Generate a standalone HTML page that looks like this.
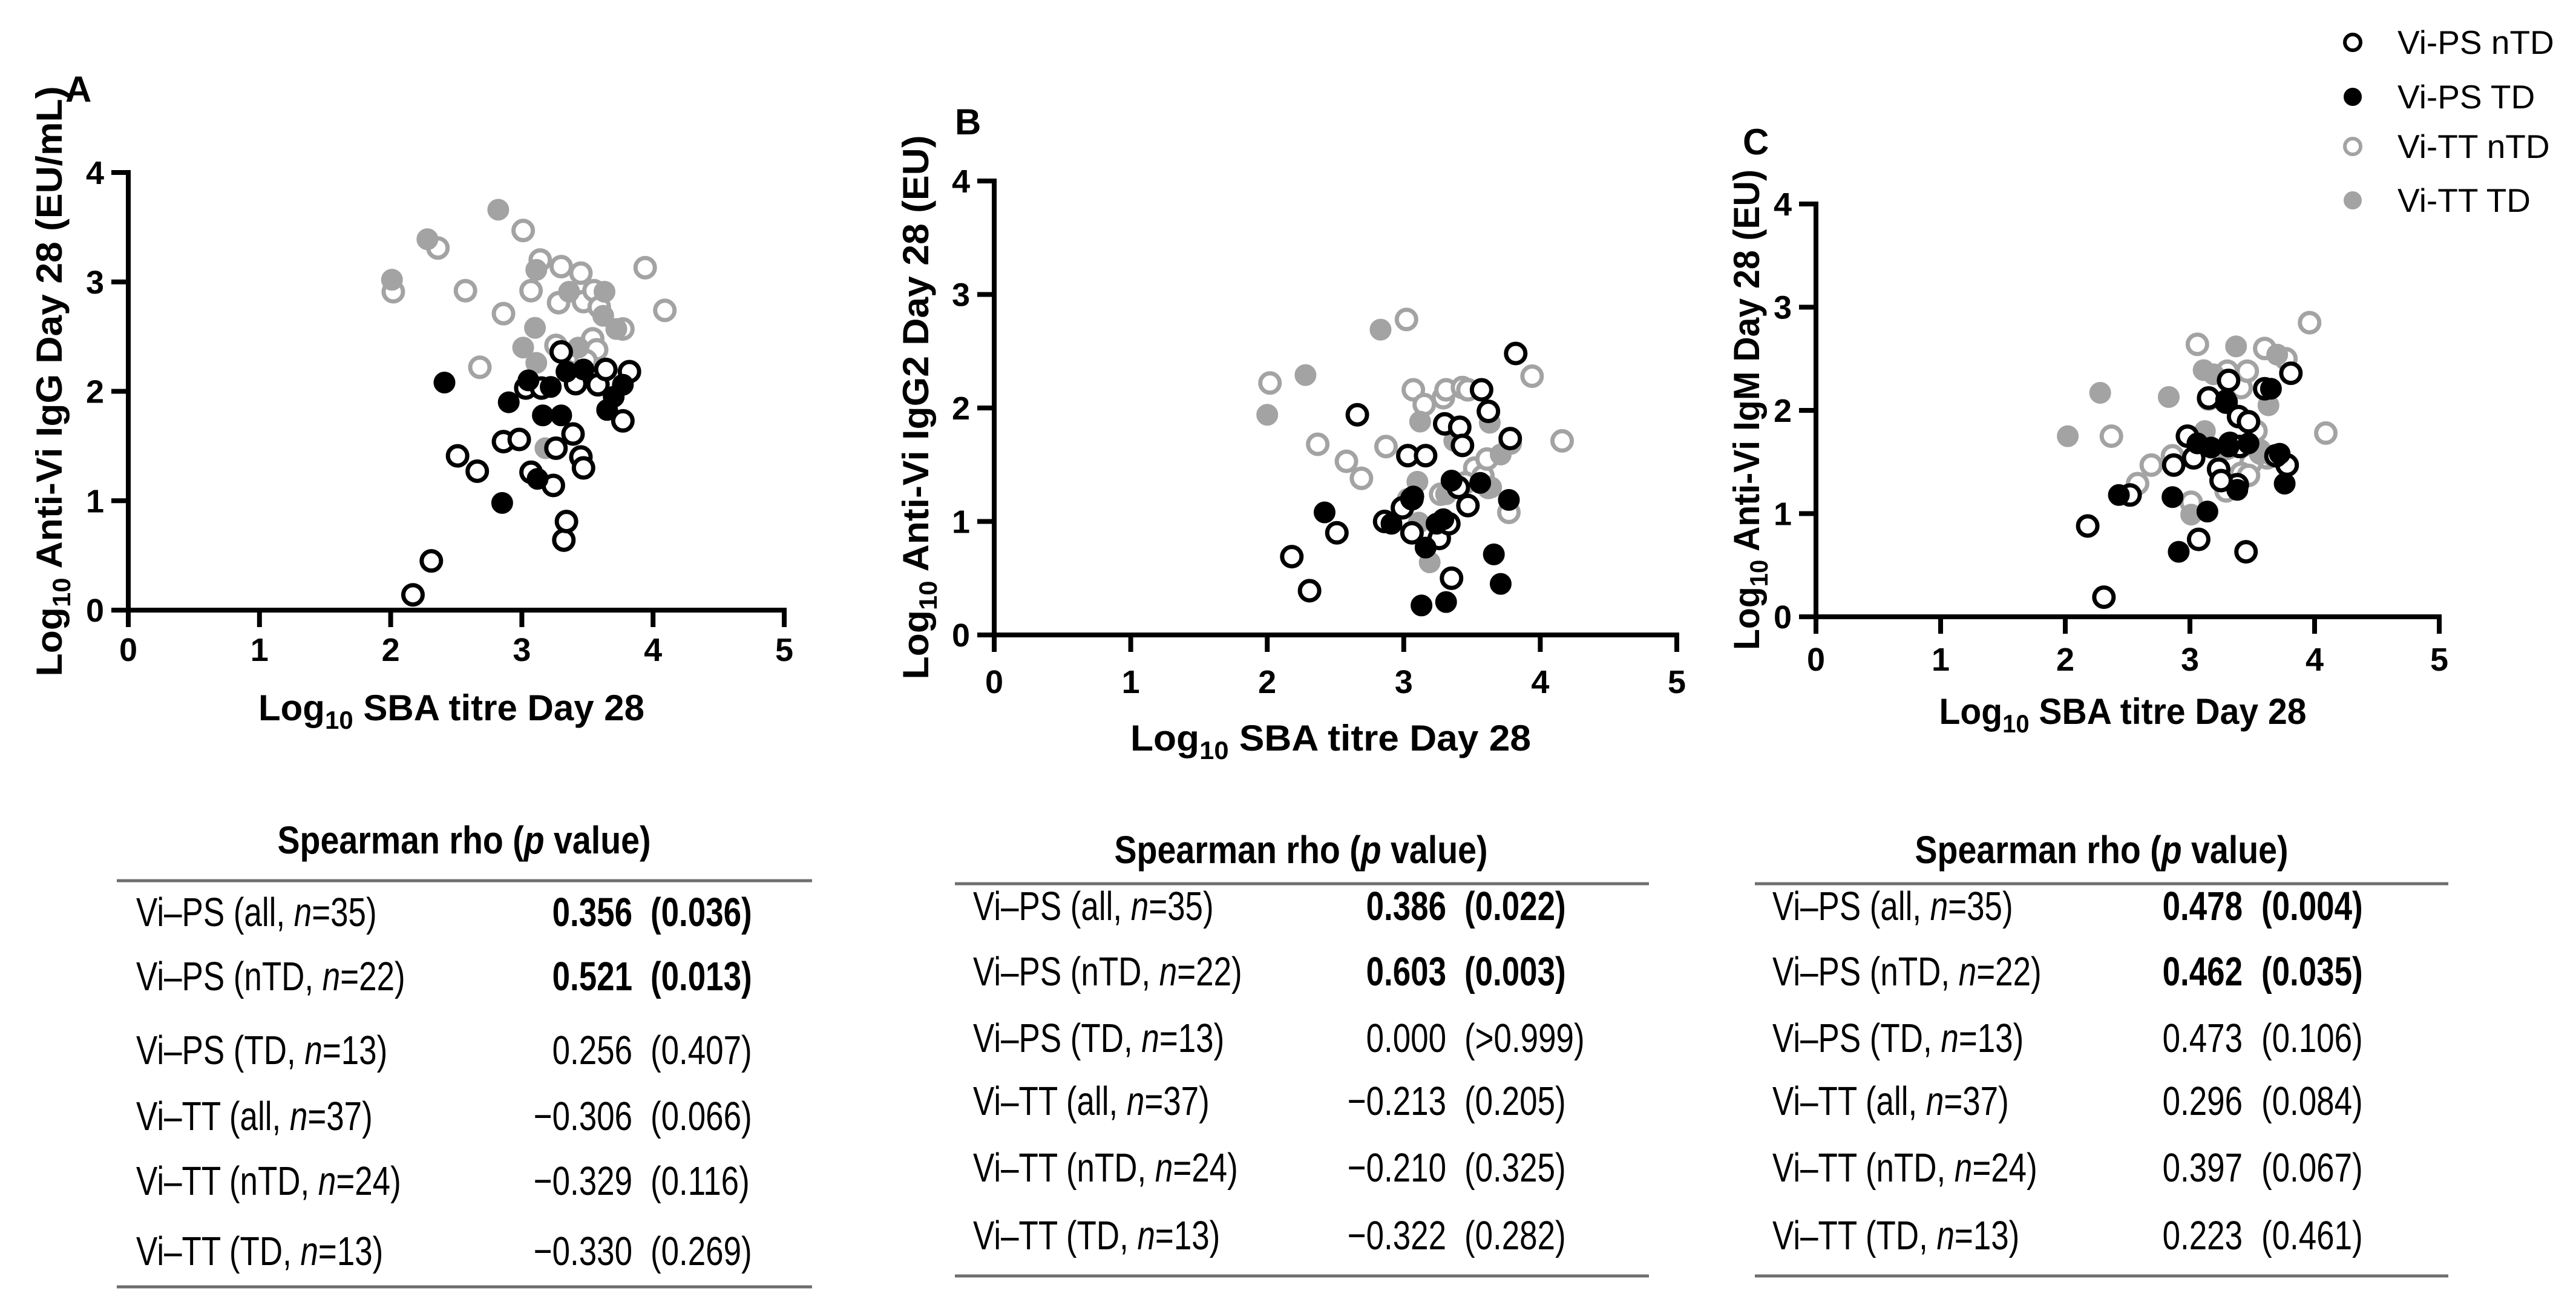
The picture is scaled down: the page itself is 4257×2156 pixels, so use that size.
<!DOCTYPE html>
<html><head><meta charset="utf-8"><style>
html,body{margin:0;padding:0;background:#fff;}
svg{display:block;}
text{font-family:"Liberation Sans",sans-serif;}
</style></head><body>
<svg id="fig" xmlns="http://www.w3.org/2000/svg" width="4257" height="2156" viewBox="0 0 4257 2156">
<rect width="4257" height="2156" fill="#fff"/>
</svg>
<script>
// ---- data ----
const xTicks = [0,1,2,3,4,5];
const yTicks = [0,1,2,3,4];
const seriesNames = ['Vi-PS nTD','Vi-PS TD','Vi-TT nTD','Vi-TT TD'];

// Panel A (IgG)
const aPsNtdX = [2.17,2.31,2.51,2.66,2.86,2.98,3.03,3.07,3.15,3.24,3.26,3.32,3.34,3.39,3.41,3.45,3.47,3.58,3.64,3.77,3.82,3.30];
const aPsNtdY = [0.14,0.45,1.41,1.27,1.54,1.56,2.03,1.26,2.03,1.14,1.48,0.64,0.81,1.61,2.07,1.40,1.30,2.06,2.20,1.73,2.18,2.36];
const aPsTdX = [2.41,2.85,2.90,3.05,3.12,3.16,3.22,3.30,3.34,3.47,3.65,3.70,3.77];
const aPsTdY = [2.08,0.98,1.90,2.10,1.20,1.78,2.04,1.78,2.18,2.20,1.83,1.95,2.06];
const aTtNtdX = [2.02,2.36,2.57,2.68,2.86,3.01,3.07,3.14,3.28,3.30,3.26,3.45,3.47,3.41,3.55,3.54,3.59,3.57,3.77,3.94,4.09,3.49];
const aTtNtdY = [2.91,3.31,2.92,2.22,2.71,3.47,2.92,3.20,2.81,3.14,2.42,3.08,2.82,2.34,2.92,2.48,2.77,2.38,2.57,3.13,2.74,2.28];
const aTtTdX = [2.01,2.28,2.82,3.10,3.01,3.11,3.11,3.36,3.63,3.62,3.72,3.18,3.43];
const aTtTdY = [3.02,3.39,3.66,2.58,2.40,3.11,2.26,2.91,2.91,2.69,2.57,1.48,2.40];

// Panel B (IgG2)
const bPsNtdX = [2.18,2.31,2.51,2.66,2.86,3.03,3.16,3.06,2.99,3.06,3.26,3.30,3.41,3.43,3.33,3.35,3.47,3.57,3.62,3.78,3.82,3.40];
const bPsNtdY = [0.69,0.39,0.90,1.94,1.00,1.58,1.58,0.90,1.12,1.20,0.85,1.86,1.83,1.67,0.98,0.50,1.14,2.16,1.97,1.73,2.48,1.30];
const bPsTdX = [2.42,2.91,3.13,3.16,3.24,3.31,3.35,3.66,3.71,3.77,3.07,3.29,3.56];
const bPsTdY = [1.08,0.98,0.26,0.77,0.98,0.29,1.36,0.71,0.45,1.19,1.22,1.02,1.34];
const bTtNtdX = [2.02,2.37,2.58,2.69,2.87,3.02,3.07,3.15,3.29,3.31,3.43,3.47,3.27,3.52,3.58,3.61,3.78,3.77,3.94,4.16,3.45,3.62];
const bTtNtdY = [2.22,1.68,1.53,1.38,1.66,2.78,2.16,2.03,2.09,2.16,2.18,2.16,1.24,1.47,1.40,1.55,1.69,1.08,2.28,1.71,1.34,1.30];
const bTtTdX = [2.00,2.28,2.83,3.12,3.10,3.03,3.11,3.19,3.31,3.37,3.63,3.71,3.64];
const bTtTdY = [1.94,2.29,2.69,1.88,1.35,1.20,0.99,0.64,1.24,1.71,1.87,1.59,1.30];

// Panel C (IgM)
const cPsNtdX = [2.31,2.18,2.52,2.87,2.98,3.03,3.07,3.23,3.29,3.31,3.32,3.39,3.45,3.47,3.38,3.78,3.81,3.60,3.15,3.40,3.69,3.25];
const cPsNtdY = [0.19,0.88,1.18,1.47,1.75,1.54,0.75,1.43,2.08,2.29,1.68,1.94,0.63,1.89,1.28,1.47,2.36,2.21,2.12,1.65,1.56,1.32];
const cPsTdX = [2.43,2.86,2.91,3.14,3.06,3.17,3.29,3.38,3.47,3.65,3.72,3.76,3.31];
const cPsTdY = [1.18,1.16,0.63,1.02,1.68,1.64,2.10,1.23,1.68,2.21,1.58,1.29,1.65];
const cTtNtdX = [2.37,2.58,2.69,2.86,3.01,3.06,3.15,3.30,3.41,3.46,3.53,3.49,3.41,3.29,3.60,3.77,3.96,4.09,3.62,3.29,3.56,3.47];
const cTtNtdY = [1.75,1.29,1.47,1.56,1.11,2.64,2.11,2.38,2.22,2.38,1.80,1.49,1.39,1.22,2.60,2.50,2.85,1.78,1.54,1.63,1.61,1.37];
const cTtTdX = [2.02,2.28,2.83,3.01,3.11,3.12,3.19,3.37,3.70,3.63,3.31,3.66,3.56];
const cTtTdY = [1.75,2.17,2.13,0.99,2.39,1.80,2.35,2.62,2.54,2.05,1.63,1.56,1.58];

// ---- rendering ----
const NS = 'http://www.w3.org/2000/svg';
const svg = document.getElementById('fig');
function mk(tag, attrs, parent){
  const e = document.createElementNS(NS, tag);
  for (const k in attrs) e.setAttribute(k, attrs[k]);
  (parent||svg).appendChild(e);
  return e;
}
const GREY = '#a3a3a3';

const panels = [
  {id:'a', letter:'A', x0:212, x5:1296, y0:1008, y4:285, tickY:1092, xTitleY:1190, xTitleLen:638, yTitleX:80, yTitleC:630, yTitleLen:975,
   yTitle:'Anti-Vi IgG Day 28 (EU/mL)', lx:108, ly:168,
   series:[[aTtNtdX,aTtNtdY],[aTtTdX,aTtTdY],[aPsNtdX,aPsNtdY],[aPsTdX,aPsTdY]]},
  {id:'b', letter:'B', x0:1643, x5:2771, y0:1049, y4:299, tickY:1145, xTitleY:1240, xTitleLen:662, yTitleX:1512, yTitleC:673, yTitleLen:899,
   yTitle:'Anti-Vi IgG2 Day 28 (EU)', lx:1578, ly:222,
   series:[[bTtNtdX,bTtNtdY],[bTtTdX,bTtTdY],[bPsNtdX,bPsNtdY],[bPsTdX,bPsTdY]]},
  {id:'c', letter:'C', x0:3001, x5:4031, y0:1019, y4:337, tickY:1108, xTitleY:1196, xTitleLen:607, yTitleX:2885, yTitleC:677, yTitleLen:794,
   yTitle:'Anti-Vi IgM Day 28 (EU)', lx:2880, ly:255,
   series:[[cTtNtdX,cTtNtdY],[cTtTdX,cTtTdY],[cPsNtdX,cPsNtdY],[cPsTdX,cPsTdY]]}
];
const seriesStyle = [
  {fill:'#fff', stroke:GREY, name:'vi-tt-ntd'},
  {fill:GREY, stroke:GREY, name:'vi-tt-td'},
  {fill:'#fff', stroke:'#000', name:'vi-ps-ntd'},
  {fill:'#000', stroke:'#000', name:'vi-ps-td'}
];

panels.forEach(p => {
  const sx = v => p.x0 + (p.x5 - p.x0) * v / 5;
  const sy = v => p.y0 - (p.y0 - p.y4) * v / 4;
  const g = mk('g', {});
  
  
  const xa = mk('line', {x1:sx(0)-4, y1:sy(0), x2:sx(5)+4, y2:sy(0), stroke:'#000','stroke-width':8}, g);
  
  
  const ya = mk('line', {x1:sx(0), y1:sy(0)+4, x2:sx(0), y2:sy(4)-4, stroke:'#000','stroke-width':8}, g);
  
  
  xTicks.forEach(t => {
    mk('line', {x1:sx(t), y1:sy(0), x2:sx(t), y2:sy(0)+28, stroke:'#000','stroke-width':8}, g);
    const tl = mk('text', {x:sx(t), y:p.tickY, 'text-anchor':'middle','font-size':54,'font-weight':'bold'}, g);
    tl.textContent = t;
    
    
  });
  yTicks.forEach(t => {
    mk('line', {x1:sx(0)-28, y1:sy(t), x2:sx(0), y2:sy(t), stroke:'#000','stroke-width':8}, g);
    const tl = mk('text', {x:sx(0)-40, y:sy(t)+19, 'text-anchor':'end','font-size':54,'font-weight':'bold'}, g);
    tl.textContent = t;
    
    
  });
  const xt = mk('text', {x:(p.x0+p.x5)/2 - 8, y:p.xTitleY, 'text-anchor':'middle','font-size':60,'font-weight':'bold', textLength:p.xTitleLen, lengthAdjust:'spacingAndGlyphs'}, g);
  xt.innerHTML = 'Log<tspan font-size="42" dy="14">10</tspan><tspan dy="-14"> SBA titre Day 28</tspan>';
  
  
  const yt = mk('text', {x:0, y:0, transform:`translate(${p.yTitleX + 22},${p.yTitleC}) rotate(-90)`, 'text-anchor':'middle','font-size':60,'font-weight':'bold', textLength:p.yTitleLen, lengthAdjust:'spacingAndGlyphs'}, g);
  yt.innerHTML = 'Log<tspan font-size="42" dy="14">10</tspan><tspan dy="-14"> ' + p.yTitle + '</tspan>';
  
  
  const lt = mk('text', {x:p.lx, y:p.ly, 'font-size':60,'font-weight':'bold'}, g);
  lt.textContent = p.letter;
  
  
  p.series.forEach((s, si) => {
    const st = seriesStyle[si];
    const sg = mk('g', {}, g);
    
    
    s[0].forEach((xv, i) => {
      const c = mk('circle', {cx:sx(xv), cy:sy(s[1][i]), r:st.fill==='#fff'?16:17, fill:st.fill, stroke:st.stroke, 'stroke-width':st.fill==='#fff'?7:2}, sg);
      
      
    });
  });
});

const legendY = [70,160,242,331];
const legendStyle = [
  {fill:'#fff', stroke:'#000'},{fill:'#000', stroke:'#000'},{fill:'#fff', stroke:GREY},{fill:GREY, stroke:GREY}
];
const lg = mk('g', {});


seriesNames.forEach((n, i) => {
  const st = legendStyle[i];
  const e = mk('g', {}, lg);
  
  
  mk('circle', {cx:3888, cy:legendY[i], r:st.fill==='#fff'?13:14, fill:st.fill, stroke:st.stroke, 'stroke-width':st.fill==='#fff'?6:2}, e);
  const t = mk('text', {x:3962, y:legendY[i]+19, 'font-size':55}, e);
  t.textContent = n;
});

const tableRows = ['Vi\u2013PS (all, <tspan font-style="italic">n</tspan>=35)','Vi\u2013PS (nTD, <tspan font-style="italic">n</tspan>=22)','Vi\u2013PS (TD, <tspan font-style="italic">n</tspan>=13)','Vi\u2013TT (all, <tspan font-style="italic">n</tspan>=37)','Vi\u2013TT (nTD, <tspan font-style="italic">n</tspan>=24)','Vi\u2013TT (TD, <tspan font-style="italic">n</tspan>=13)'];
const tables = [
  {id:'a', hx:767, hy:1410, lineY1:1455, lineY2:2126, lx1:193, lx2:1342, labX:225, rhoEnd:1045, pX:1075,
   rows:[1530,1636,1758,1867,1974,2090],
   rho:['0.356','0.521','0.256','\u22120.306','\u22120.329','\u22120.330'],
   pv:['(0.036)','(0.013)','(0.407)','(0.066)','(0.116)','(0.269)'], bold:[1,1,0,0,0,0]},
  {id:'b', hx:2150, hy:1426, lineY1:1460, lineY2:2108, lx1:1578, lx2:2725, labX:1608, rhoEnd:2390, pX:2420,
   rows:[1520,1628,1738,1842,1952,2064],
   rho:['0.386','0.603','0.000','\u22120.213','\u22120.210','\u22120.322'],
   pv:['(0.022)','(0.003)','(>0.999)','(0.205)','(0.325)','(0.282)'], bold:[1,1,0,0,0,0]},
  {id:'c', hx:3473, hy:1426, lineY1:1460, lineY2:2108, lx1:2900, lx2:4046, labX:2929, rhoEnd:3706, pX:3737,
   rows:[1520,1628,1738,1842,1952,2064],
   rho:['0.478','0.462','0.473','0.296','0.397','0.223'],
   pv:['(0.004)','(0.035)','(0.106)','(0.084)','(0.067)','(0.461)'], bold:[1,1,0,0,0,0]}
];
tables.forEach(t => {
  const g = mk('g', {});
  
  
  const h = mk('text', {x:t.hx, y:t.hy, 'text-anchor':'middle','font-size':64,'font-weight':'bold', textLength:617, lengthAdjust:'spacingAndGlyphs'}, g);
  h.innerHTML = 'Spearman rho (<tspan font-style="italic">p</tspan> value)';
  
  
  mk('line', {x1:t.lx1, y1:t.lineY1, x2:t.lx2, y2:t.lineY1, stroke:'#6e6e6e','stroke-width':5}, g);
  mk('line', {x1:t.lx1, y1:t.lineY2, x2:t.lx2, y2:t.lineY2, stroke:'#6e6e6e','stroke-width':5}, g);
  t.rows.forEach((ry, i) => {
    const r = mk('g', {}, g);
    
    
    const lab = mk('text', {x:0, y:0, transform:`translate(${t.labX},${ry}) scale(0.79,1)`, 'font-size':67}, r);
    lab.innerHTML = tableRows[i];
    const fw = t.bold[i] ? 'bold' : 'normal';
    const rv = mk('text', {x:0, y:0, transform:`translate(${t.rhoEnd},${ry}) scale(0.79,1)`, 'text-anchor':'end','font-size':67,'font-weight':fw}, r);
    rv.textContent = t.rho[i];
    const pv = mk('text', {x:0, y:0, transform:`translate(${t.pX},${ry}) scale(0.79,1)`, 'font-size':67,'font-weight':fw}, r);
    pv.textContent = t.pv[i];
  });
});
</script>
</body></html>
